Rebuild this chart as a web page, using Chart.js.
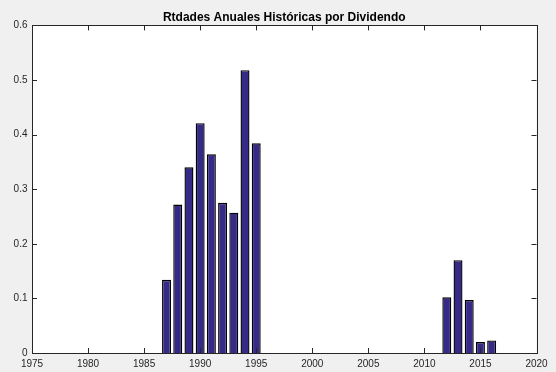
<!DOCTYPE html>
<html>
<head>
<meta charset="utf-8">
<script src="https://cdn.jsdelivr.net/npm/chart.js@4/dist/chart.umd.min.js"></script>
<style>
  html, body { margin: 0; padding: 0; background: #f0f0f0; }
  canvas { display: block; }
</style>
</head>
<body>
<canvas id="chartRtdades" width="556" height="372"></canvas>
<script>
const years = [1987, 1988, 1989, 1990, 1991, 1992, 1993, 1994, 1995, 2012, 2013, 2014, 2015, 2016];
const rtdades = [0.134, 0.272, 0.340, 0.421, 0.364, 0.275, 0.257, 0.518, 0.384, 0.102, 0.170, 0.097, 0.020, 0.023];
const xTicks = [1975, 1980, 1985, 1990, 1995, 2000, 2005, 2010, 2015, 2020];
const yTicks = [0, 0.1, 0.2, 0.3, 0.4, 0.5, 0.6];
const titulo = "Rtdades Anuales Históricas por Dividendo";

const axisColor = "#262626";
const fontFamily = "'Liberation Sans', Arial, Helvetica, sans-serif";

// caja de ejes estilo MATLAB: fondo blanco, marco y ticks hacia dentro
const matlabBox = {
    id: "matlabBox",
    beforeDatasetsDraw: function (chart) {
        const a = chart.chartArea;
        const ctx = chart.ctx;
        ctx.save();
        ctx.fillStyle = "#ffffff";
        ctx.fillRect(a.left, a.top, a.right - a.left, a.bottom - a.top);
        ctx.restore();
    },
    afterDatasetsDraw: function (chart) {
        const a = chart.chartArea;
        const ctx = chart.ctx;
        const xs = chart.scales.x;
        const ys = chart.scales.y;
        const len = 5;
        ctx.save();
        ctx.strokeStyle = axisColor;
        ctx.lineWidth = 1;
        ctx.beginPath();
        xTicks.forEach(function (v) {
            const px = Math.round(xs.getPixelForValue(v)) + 0.5;
            ctx.moveTo(px, a.bottom); ctx.lineTo(px, a.bottom - len);
            ctx.moveTo(px, a.top); ctx.lineTo(px, a.top + len);
        });
        yTicks.forEach(function (v) {
            const py = Math.round(ys.getPixelForValue(v)) + 0.5;
            ctx.moveTo(a.left, py); ctx.lineTo(a.left + len, py);
            ctx.moveTo(a.right, py); ctx.lineTo(a.right - len, py);
        });
        ctx.stroke();
        ctx.strokeRect(Math.round(a.left) + 0.5, Math.round(a.top) + 0.5,
            Math.round(a.right - a.left), Math.round(a.bottom - a.top));
        ctx.restore();
    }
};

new Chart(document.getElementById("chartRtdades"), {
    type: "bar",
    data: {
        datasets: [{
            data: years.map(function (y, i) { return { x: y, y: rtdades[i] }; }),
            backgroundColor: "#352a87",
            borderColor: "#000000",
            borderWidth: 1.4,
            inflateAmount: 0,
            barPercentage: 0.8,
            categoryPercentage: 1
        }]
    },
    options: {
        responsive: false,
        devicePixelRatio: 1,
        animation: false,
        layout: { padding: { left: 0, right: 19.5, top: 0, bottom: 0 } },
        plugins: {
            legend: { display: false },
            tooltip: { enabled: false },
            title: {
                display: true,
                text: titulo,
                fullSize: false,
                color: "#000000",
                font: { family: fontFamily, size: 12, weight: "bold" },
                padding: { top: 10, bottom: 1 }
            }
        },
        scales: {
            x: {
                type: "linear",
                offset: false,
                min: 1975,
                max: 2020,
                grid: { display: false, drawTicks: false },
                border: { display: false },
                afterBuildTicks: function (scale) {
                    scale.ticks = xTicks.map(function (v) { return { value: v }; });
                },
                afterFit: function (scale) { scale.height = 19; },
                ticks: {
                    padding: 5,
                    color: axisColor,
                    font: { family: fontFamily, size: 10 },
                    maxRotation: 0,
                    callback: function (v) { return String(v); }
                }
            },
            y: {
                min: 0,
                max: 0.6,
                grid: { display: false, drawTicks: false },
                border: { display: false },
                afterBuildTicks: function (scale) {
                    scale.ticks = yTicks.map(function (v) { return { value: v }; });
                },
                afterFit: function (scale) { scale.width = 32; },
                ticks: {
                    padding: 4.5,
                    color: axisColor,
                    font: { family: fontFamily, size: 10 },
                    callback: function (v) { return String(Math.round(v * 10) / 10); }
                }
            }
        }
    },
    plugins: [matlabBox]
});
</script>
</body>
</html>
